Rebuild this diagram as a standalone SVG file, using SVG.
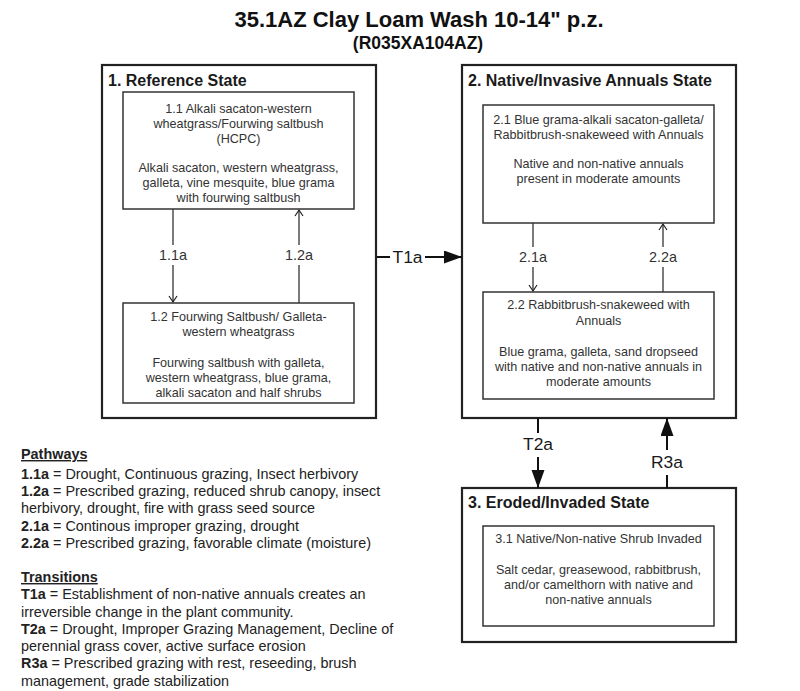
<svg xmlns="http://www.w3.org/2000/svg" width="800" height="691" viewBox="0 0 800 691">
<defs>
<marker id="open" markerUnits="userSpaceOnUse" markerWidth="12" markerHeight="12" refX="7" refY="5" orient="auto">
<path d="M1,1 L7,5 L1,9" fill="none" stroke="#222" stroke-width="1.2"/>
</marker>
<marker id="solid" markerUnits="userSpaceOnUse" markerWidth="20" markerHeight="14" refX="18" refY="6.5" orient="auto">
<path d="M0,0 L18,6.5 L0,13 Z" fill="#111"/>
</marker>
</defs>
<style>
text{font-family:"Liberation Sans",Arial,sans-serif;}
.title{font-size:22px;font-weight:bold;fill:#111;text-anchor:middle;}
.sub{font-size:17.5px;font-weight:bold;fill:#111;text-anchor:middle;}
.state{fill:#fff;stroke:#222;stroke-width:2.2;}
.phase{fill:#fff;stroke:#333;stroke-width:1.5;}
.sname{font-size:16px;font-weight:bold;fill:#1a1a1a;}
.ptxt{font-size:12.6px;fill:#333;text-anchor:middle;}
.plab{font-size:14.4px;fill:#333;text-anchor:middle;}
.tlab{font-size:17.4px;fill:#1a1a1a;text-anchor:middle;}
.pline{stroke:#333;stroke-width:1.3;fill:none;}
.tline{stroke:#111;stroke-width:2;fill:none;}
.leg{font-size:14.4px;fill:#222;}
.legb{font-weight:bold;}
.head{font-size:14.4px;font-weight:bold;fill:#222;text-decoration:underline;}
</style>

<g id="title">
<text class="title" x="419" y="27">35.1AZ Clay Loam Wash 10-14" p.z.</text>
<text class="sub" x="418" y="49">(R035XA104AZ)</text>
</g>

<g id="state1">
<rect class="state" x="102" y="65" width="274" height="353"/>
<text class="sname" x="108" y="86">1. Reference State</text>
</g>
<g id="phase1-1">
<rect class="phase" x="123" y="92" width="231" height="117"/>
<text class="ptxt" x="238.5" y="113">1.1 Alkali sacaton-western</text>
<text class="ptxt" x="238.5" y="128">wheatgrass/Fourwing saltbush</text>
<text class="ptxt" x="238.5" y="143">(HCPC)</text>
<text class="ptxt" x="238.5" y="172">Alkali sacaton, western wheatgrass,</text>
<text class="ptxt" x="238.5" y="187">galleta, vine mesquite, blue grama</text>
<text class="ptxt" x="238.5" y="202">with fourwing saltbush</text>
</g>
<g id="phase1-2">
<rect class="phase" x="123" y="303" width="231" height="100"/>
<text class="ptxt" x="238.5" y="321">1.2 Fourwing Saltbush/ Galleta-</text>
<text class="ptxt" x="238.5" y="336">western wheatgrass</text>
<text class="ptxt" x="238.5" y="367">Fourwing saltbush with galleta,</text>
<text class="ptxt" x="238.5" y="382">western wheatgrass, blue grama,</text>
<text class="ptxt" x="238.5" y="397">alkali sacaton and half shrubs</text>
</g>

<g id="state2">
<rect class="state" x="462" y="65" width="274" height="353"/>
<text class="sname" x="468" y="86">2. Native/Invasive Annuals State</text>
</g>
<g id="phase2-1">
<rect class="phase" x="483" y="105" width="231" height="118"/>
<text class="ptxt" x="598.5" y="124">2.1 Blue grama-alkali sacaton-galleta/</text>
<text class="ptxt" x="598.5" y="139">Rabbitbrush-snakeweed with Annuals</text>
<text class="ptxt" x="598.5" y="168">Native and non-native annuals</text>
<text class="ptxt" x="598.5" y="183">present in moderate amounts</text>
</g>
<g id="phase2-2">
<rect class="phase" x="483" y="292" width="231" height="107"/>
<text class="ptxt" x="598.5" y="309">2.2 Rabbitbrush-snakeweed with</text>
<text class="ptxt" x="598.5" y="325">Annuals</text>
<text class="ptxt" x="598.5" y="356">Blue grama, galleta, sand dropseed</text>
<text class="ptxt" x="598.5" y="371">with native and non-native annuals in</text>
<text class="ptxt" x="598.5" y="386">moderate amounts</text>
</g>

<g id="state3">
<rect class="state" x="462" y="488" width="274" height="154"/>
<text class="sname" x="468" y="508">3. Eroded/Invaded State</text>
</g>
<g id="phase3-1">
<rect class="phase" x="483" y="526" width="231" height="100"/>
<text class="ptxt" x="598.5" y="543">3.1 Native/Non-native Shrub Invaded</text>
<text class="ptxt" x="598.5" y="574">Salt cedar, greasewood, rabbitbrush,</text>
<text class="ptxt" x="598.5" y="589">and/or camelthorn with native and</text>
<text class="ptxt" x="598.5" y="604">non-native annuals</text>
</g>

<g id="connectors">
<line class="pline" x1="173" y1="209" x2="173" y2="245"/>
<line class="pline" x1="173" y1="265" x2="173" y2="302" marker-end="url(#open)"/>
<text class="plab" x="173" y="260">1.1a</text>
<line class="pline" x1="299" y1="303" x2="299" y2="265"/>
<line class="pline" x1="299" y1="245" x2="299" y2="210" marker-end="url(#open)"/>
<text class="plab" x="299" y="260">1.2a</text>

<line class="pline" x1="533" y1="223" x2="533" y2="247"/>
<line class="pline" x1="533" y1="267" x2="533" y2="291" marker-end="url(#open)"/>
<text class="plab" x="533" y="262">2.1a</text>
<line class="pline" x1="663" y1="292" x2="663" y2="267"/>
<line class="pline" x1="663" y1="247" x2="663" y2="224" marker-end="url(#open)"/>
<text class="plab" x="663" y="262">2.2a</text>

<line class="tline" x1="377" y1="257" x2="390" y2="257"/>
<line class="tline" x1="425" y1="257" x2="462" y2="257" marker-end="url(#solid)"/>
<text class="tlab" x="407.5" y="263">T1a</text>

<line class="tline" x1="538" y1="418" x2="538" y2="433"/>
<line class="tline" x1="538" y1="457" x2="538" y2="488" marker-end="url(#solid)"/>
<text class="tlab" x="538" y="450">T2a</text>

<line class="tline" x1="667" y1="488" x2="667" y2="475"/>
<line class="tline" x1="667" y1="450" x2="667" y2="418" marker-end="url(#solid)"/>
<text class="tlab" x="667" y="468">R3a</text>
</g>

<g id="legend">
<text class="head" x="21" y="459">Pathways</text>
<text class="leg" x="21" y="479"><tspan class="legb">1.1a</tspan> = Drought, Continuous grazing, Insect herbivory</text>
<text class="leg" x="21" y="496"><tspan class="legb">1.2a</tspan> = Prescribed grazing, reduced shrub canopy, insect</text>
<text class="leg" x="21" y="513">herbivory, drought, fire with grass seed source</text>
<text class="leg" x="21" y="531"><tspan class="legb">2.1a</tspan> = Continous improper grazing, drought</text>
<text class="leg" x="21" y="548"><tspan class="legb">2.2a</tspan> = Prescribed grazing, favorable climate (moisture)</text>
<text class="head" x="21" y="582">Transitions</text>
<text class="leg" x="21" y="599"><tspan class="legb">T1a</tspan> = Establishment of non-native annuals creates an</text>
<text class="leg" x="21" y="617">irreversible change in the plant community.</text>
<text class="leg" x="21" y="634"><tspan class="legb">T2a</tspan> = Drought, Improper Grazing Management, Decline of</text>
<text class="leg" x="21" y="651">perennial grass cover, active surface erosion</text>
<text class="leg" x="21" y="668"><tspan class="legb">R3a</tspan> = Prescribed grazing with rest, reseeding, brush</text>
<text class="leg" x="21" y="686">management, grade stabilization</text>
</g>
</svg>
